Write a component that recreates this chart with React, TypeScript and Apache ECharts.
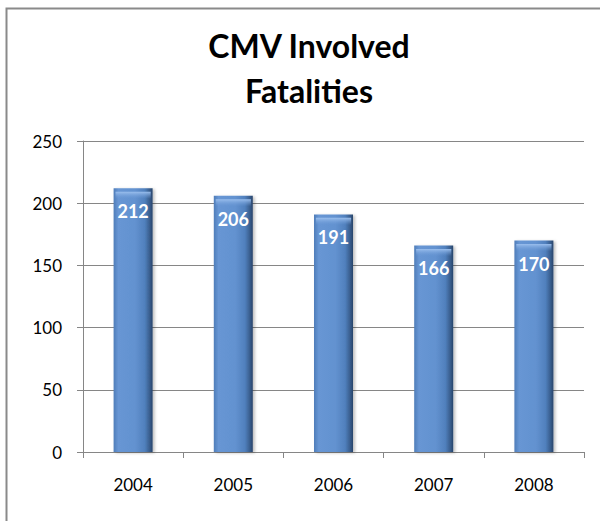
import React, { useEffect, useRef } from "react";
import * as echarts from "echarts";

const years = ["2004", "2005", "2006", "2007", "2008"];
const fatalities = [212, 206, 191, 166, 170];
const titleText = "CMV Involved\nFatalities";

export default function App() {
  const ref = useRef<HTMLDivElement>(null);
  useEffect(() => {
    document.body.style.margin = "0";
    const chart = echarts.init(ref.current!, null, { renderer: "svg" });
    const font = "Lato, 'Open Sans', sans-serif";
    const barGrad = new echarts.graphic.LinearGradient(0, 0, 1, 0, [
      { offset: 0, color: "#4f7db9" },
      { offset: 0.12, color: "#6796d4" },
      { offset: 0.55, color: "#6392d0" },
      { offset: 0.8, color: "#5080bd" },
      { offset: 0.92, color: "#3a5f8f" },
      { offset: 1, color: "#28456b" },
    ]);
    const capGrad = new echarts.graphic.LinearGradient(0, 0, 0, 1, [
      { offset: 0, color: "#9cc0ee" },
      { offset: 1, color: "rgba(110,155,215,0)" },
    ]);
    chart.setOption({
      animation: false,
      backgroundColor: "#ffffff",
      title: {
        text: titleText,
        left: 304,
        textAlign: "center",
        top: 18,
        textStyle: {
          fontFamily: font,
          fontWeight: "bold",
          fontSize: 32,
          lineHeight: 45,
          color: "#000000",
        },
      },
      graphic: [
        {
          type: "polyline",
          shape: { points: [[6.5, 530], [6.5, 8.5], [610, 8.5]] },
          style: { stroke: "#8a8a8a", lineWidth: 2, fill: "none" },
          silent: true,
        },
      ],
      grid: { left: 83, right: 16, top: 141, bottom: 69, containLabel: false },
      xAxis: {
        type: "category",
        data: years,
        axisLine: { lineStyle: { color: "#868686", width: 1 } },
        axisTick: { show: true, length: 6, lineStyle: { color: "#868686" } },
        axisLabel: { fontFamily: font, fontSize: 17, color: "#000000", margin: 24 },
      },
      yAxis: {
        type: "value",
        min: 0,
        max: 250,
        interval: 50,
        axisLine: { show: true, lineStyle: { color: "#868686", width: 1 } },
        axisTick: { show: true, length: 6, lineStyle: { color: "#868686" } },
        splitLine: { lineStyle: { color: "#868686", width: 1 } },
        axisLabel: { fontFamily: font, fontSize: 17, color: "#000000", margin: 21 },
      },
      series: [
        {
          type: "bar",
          data: fatalities,
          barWidth: 39,
          itemStyle: {
            color: barGrad,
            shadowColor: "rgba(0,0,0,0.25)",
            shadowBlur: 3,
            shadowOffsetX: 2,
            shadowOffsetY: 1,
          },
          label: {
            show: true,
            position: "insideTop",
            distance: 14,
            color: "#ffffff",
            fontFamily: font,
            fontWeight: "bold",
            fontSize: 18,
          },
          z: 2,
        },
        {
          type: "pictorialBar",
          data: fatalities,
          symbol: "rect",
          symbolSize: [35, 7],
          symbolPosition: "end",
          symbolOffset: [0, "50%"],
          itemStyle: { color: capGrad },
          silent: true,
          z: 3,
        },
      ],
    });
    return () => chart.dispose();
  }, []);
  return (
    <div
      ref={ref}
      style={{ position: "absolute", left: 0, top: 0, width: 600, height: 521 }}
    />
  );
}
